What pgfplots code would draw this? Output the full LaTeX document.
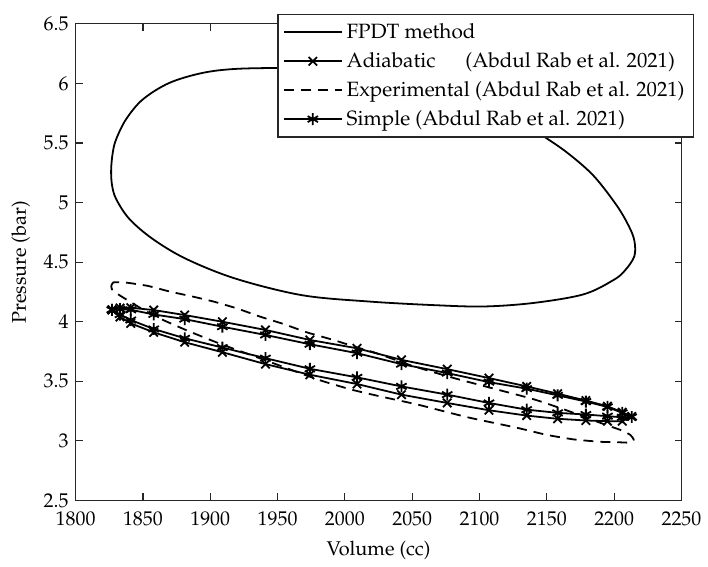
\documentclass[border=0pt]{standalone}
\usepackage[T1]{fontenc}
\usepackage{mathpazo}
\usepackage{pgfplots}
\pgfplotsset{compat=1.18}
\begin{document}
\begin{tikzpicture}
\begin{axis}[
    name=ax,
    scale only axis,
    width=304.5pt, height=239.5pt,
    xmin=1800, xmax=2250, ymin=2.5, ymax=6.5,
    xtick={1800,1850,...,2250},
    ytick={2.5,3,...,6.5},
    xtick pos=both, ytick pos=both,
    tick align=inside,
    major tick length=3.5pt,
    /pgf/number format/1000 sep={},
    xticklabel style={yshift=-2pt},
    axis line style={black!85, line width=0.6pt},
    every tick/.style={black!85, line width=0.6pt},
    xlabel={Volume (cc)},
    ylabel={Pressure (bar)},
    xlabel style={yshift=-1pt},
    legend cell align=left,
    legend image code/.code={\draw[mark repeat=2,mark phase=2,#1] plot coordinates {(0pt,0pt) (14.5pt,0pt) (29pt,0pt)};},
    legend style={at={(1.021,1.021)}, anchor=north east, draw=black!85, line width=0.6pt, fill=white,
        row sep=1.5pt, inner sep=2.5pt, font=\fontsize{10.4}{12}\selectfont},
]
% FPDT method
\addlegendimage{black, line width=1pt, yshift=0.3pt}
\addlegendentry{FPDT method}
\addplot[black, line width=0.9pt, smooth cycle, tension=0.55, forget plot] coordinates {
    (1826.4,5.28) (1827.6,5.42) (1830.1,5.531) (1837.4,5.698) (1849.8,5.865) (1869.5,6.004)
    (1894.1,6.088) (1918.7,6.122) (1955,6.130) (1990,6.125) (2030,6.08)
    (2070,5.98) (2105,5.83) (2130,5.68) (2145.3,5.573) (2165,5.420)
    (2184.7,5.225) (2202,4.974) (2211,4.80) (2215,4.68) (2215,4.55)
    (2208,4.43) (2199.5,4.350) (2177.3,4.230) (2140.4,4.158) (2103.5,4.128) (2066.5,4.139)
    (2017.3,4.17) (1968,4.223) (1918.7,4.362) (1881.8,4.529) (1857.1,4.696)
    (1839.9,4.863) (1830.1,5.030) (1827.0,5.15)
};
% Adiabatic
\addplot[black, line width=0.9pt, mark=x, mark size=3pt, mark options={solid}] coordinates {
    (1827,4.10) (1833,4.115) (1841,4.117) (1858,4.098) (1881,4.056) (1909,4.000)
    (1941,3.931) (1974,3.847) (2009,3.777) (2042,3.680) (2076,3.602) (2107,3.527)
    (2135,3.457) (2158,3.396) (2179,3.338) (2195,3.290) (2206,3.240) (2213,3.205)
    (2206,3.165) (2195,3.165) (2179,3.171) (2158,3.185) (2135,3.212) (2107,3.257)
    (2076,3.318) (2042,3.388) (2009,3.477) (1974,3.555) (1941,3.644) (1909,3.744)
    (1881,3.828) (1858,3.911) (1841,3.986) (1833,4.04) (1827,4.10)
};
\addlegendentry{Adiabatic\hspace*{15pt}(Abdul Rab et al. 2021)}
% Experimental
\addplot[black, line width=0.9pt, dash pattern=on 5pt off 3.5pt, smooth, tension=0.3] coordinates {
    (1826.5,4.30) (1828,4.33) (1837,4.329) (1853.5,4.301) (1870.7,4.251) (1886.7,4.212)
    (1903.2,4.167) (1920,4.111) (1937.2,4.042) (1954.4,3.981) (1971.7,3.911)
    (1991.4,3.847) (2008.6,3.786) (2023.4,3.736) (2050,3.63) (2080,3.53) (2110,3.44)
    (2140,3.35) (2165,3.255) (2190,3.15) (2205,3.09) (2212,3.05) (2214.5,3.01)
    (2212,2.985) (2200,2.99) (2189.7,2.992) (2170,3.012) (2150,3.05) (2128.1,3.109)
    (2091.1,3.198) (2054.2,3.304) (2025.9,3.374) (2004.9,3.430) (1980.3,3.513)
    (1943.4,3.666) (1906.4,3.819) (1881.8,3.931) (1857.1,4.056) (1832.5,4.223)
    (1827.1,4.27) (1826.5,4.30)
};
\addlegendentry{Experimental (Abdul Rab et al. 2021)}
% Simple
\addplot[black, line width=0.9pt, mark=asterisk, mark size=3pt, mark options={solid}] coordinates {
    (1827,4.10) (1833,4.105) (1841,4.10) (1858,4.061) (1881,4.022) (1909,3.958)
    (1941,3.889) (1974,3.811) (2009,3.736) (2042,3.644) (2076,3.569) (2107,3.493)
    (2135,3.438) (2158,3.382) (2179,3.33) (2195,3.285) (2206,3.235) (2213,3.20)
    (2206,3.198) (2195,3.207) (2179,3.221) (2158,3.235) (2135,3.262) (2107,3.318)
    (2076,3.388) (2042,3.457) (2009,3.533) (1974,3.605) (1941,3.694) (1909,3.783)
    (1881,3.861) (1858,3.939) (1841,4.014) (1833,4.06) (1827,4.10)
};
\addlegendentry{Simple (Abdul Rab et al. 2021)}
\end{axis}
\path (ax.south west) ++(-38pt,-30.5pt) rectangle ++(354pt,282pt);
\end{tikzpicture}
\end{document}
